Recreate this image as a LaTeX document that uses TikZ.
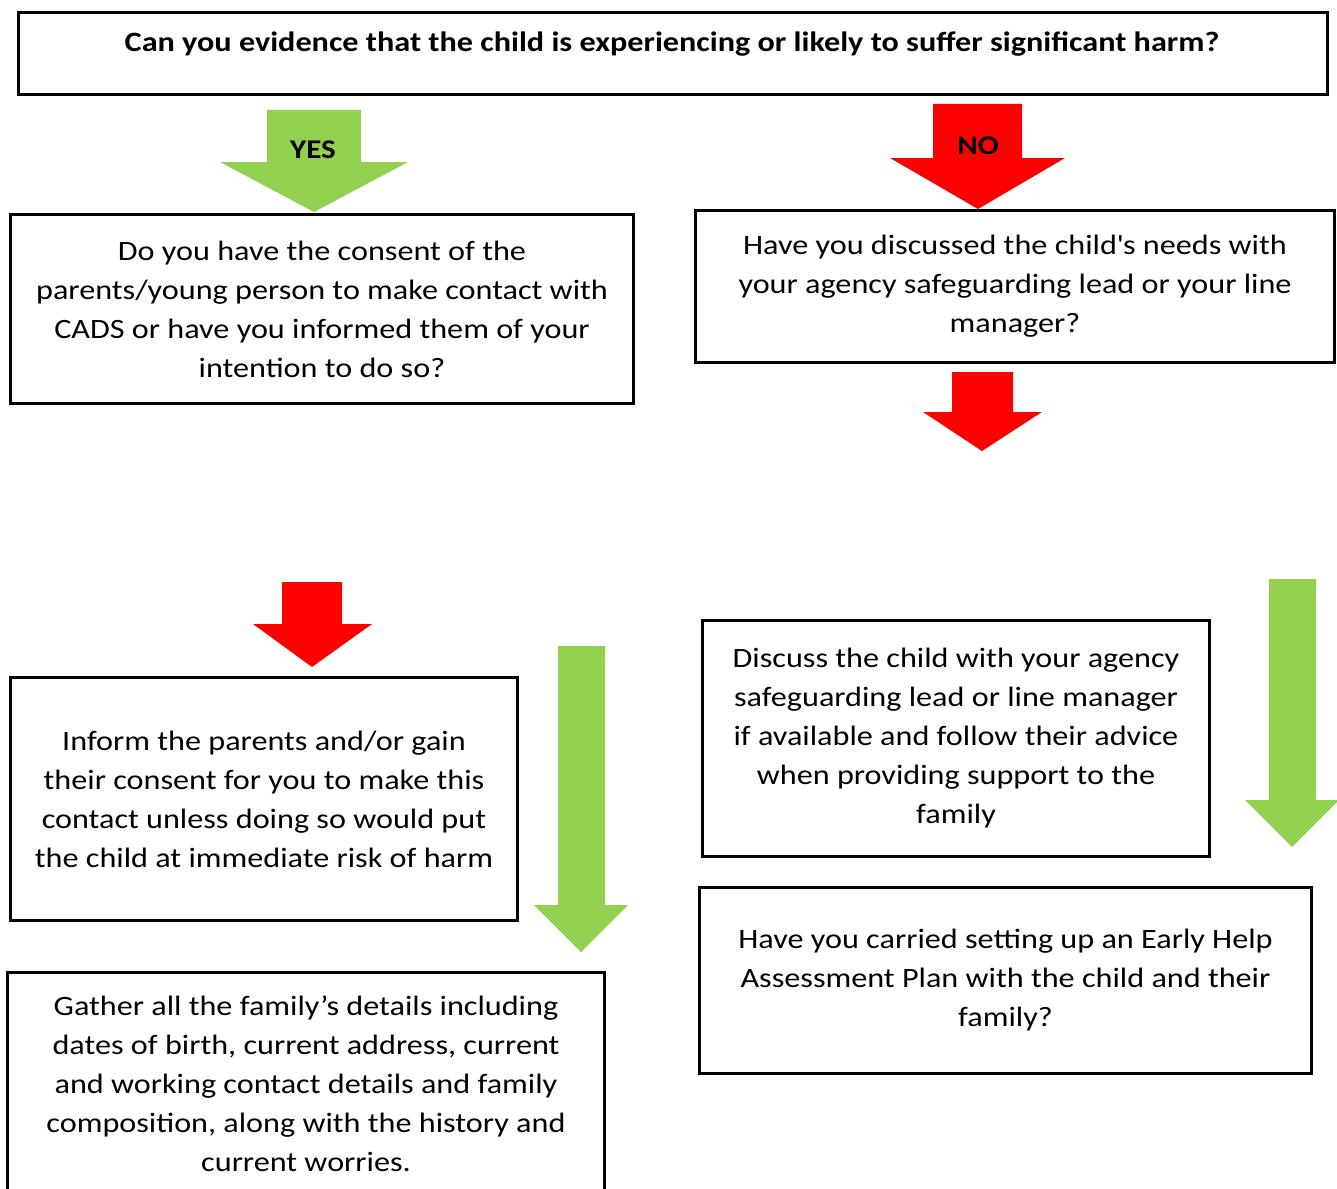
\documentclass[tikz,border=0pt]{standalone}
\usepackage{fontspec}
\setmainfont{Carlito}[FakeStretch=1.15]
\definecolor{agreen}{HTML}{92D050}
\definecolor{ared}{HTML}{FF0000}
\begin{document}
\begin{tikzpicture}[x=1pt,y=-1pt,
  box/.style={draw=black,line width=3pt,fill=white,inner sep=0pt,align=center,
    font=\fontsize{28}{39}\selectfont},
  lbl/.style={font=\fontsize{27}{32}\selectfont\bfseries,inner sep=0pt}]
\useasboundingbox (0,0) rectangle (1337,1188);
\clip (0,0) rectangle (1337,1188);
% arrows
\fill[agreen] (267,110) -- (361,110) -- (361,162) -- (408,162) -- (314,212) -- (220,162) -- (267,162) -- cycle;
\fill[ared] (933,104) -- (1022,104) -- (1022,158) -- (1065,158) -- (978,209) -- (890,158) -- (933,158) -- cycle;
\fill[ared] (952,372) -- (1013,372) -- (1013,412) -- (1042,412) -- (982,451) -- (923,412) -- (952,412) -- cycle;
\fill[ared] (282,582) -- (342,582) -- (342,624) -- (372,624) -- (312,667) -- (253,624) -- (282,624) -- cycle;
\fill[agreen] (558,646) -- (605,646) -- (605,905) -- (628,905) -- (581,952) -- (534,905) -- (558,905) -- cycle;
\fill[agreen] (1269,579) -- (1316,579) -- (1316,800) -- (1339,800) -- (1292,847) -- (1245,800) -- (1269,800) -- cycle;
\node[lbl] (yes) at (313,150) {YES};
\node[lbl] (no) at (978,146) {NO};
% boxes
\node[box,minimum width=1309pt,minimum height=82pt] (q) at (673,53.5) {};
\node[font=\fontsize{28}{32}\selectfont\bfseries,inner sep=0pt] (qt) at (672,44)
  {Can you evidence that the child is experiencing or likely to suffer significant harm?};
\node[box,minimum width=623pt,minimum height=189pt] (a) at (322,309)
  {Do you have the consent of the\\ parents/young person to make contact with\\ CADS or have you informed them of your\\ intention to do so?};
\node[box,minimum width=639pt,minimum height=152pt] (b) at (1015,286.5)
  {Have you discussed the child\textquotesingle s needs with\\ your agency safeguarding lead or your line\\ manager?};
\node[box,minimum width=507pt,minimum height=243pt] (c) at (264,799)
  {Inform the parents and/or gain\\ their consent for you to make this\\ contact unless doing so would put\\ the child at immediate risk of harm};
\node[box,minimum width=597pt,minimum height=222pt] (d) at (306,1083.5)
  {Gather all the family’s details including\\ dates of birth, current address, current\\ and working contact details and family\\ composition, along with the history and\\ current worries.};
\node[box,minimum width=507pt,minimum height=236pt] (e) at (956,738.5)
  {Discuss the child with your agency\\ safeguarding lead or line manager\\ if available and follow their advice\\ when providing support to the\\ family};
\node[box,minimum width=612pt,minimum height=186pt] (f) at (1005.5,980.5)
  {Have you carried setting up an Early Help\\ Assessment Plan with the child and their\\ family?};
\end{tikzpicture}
\end{document}
